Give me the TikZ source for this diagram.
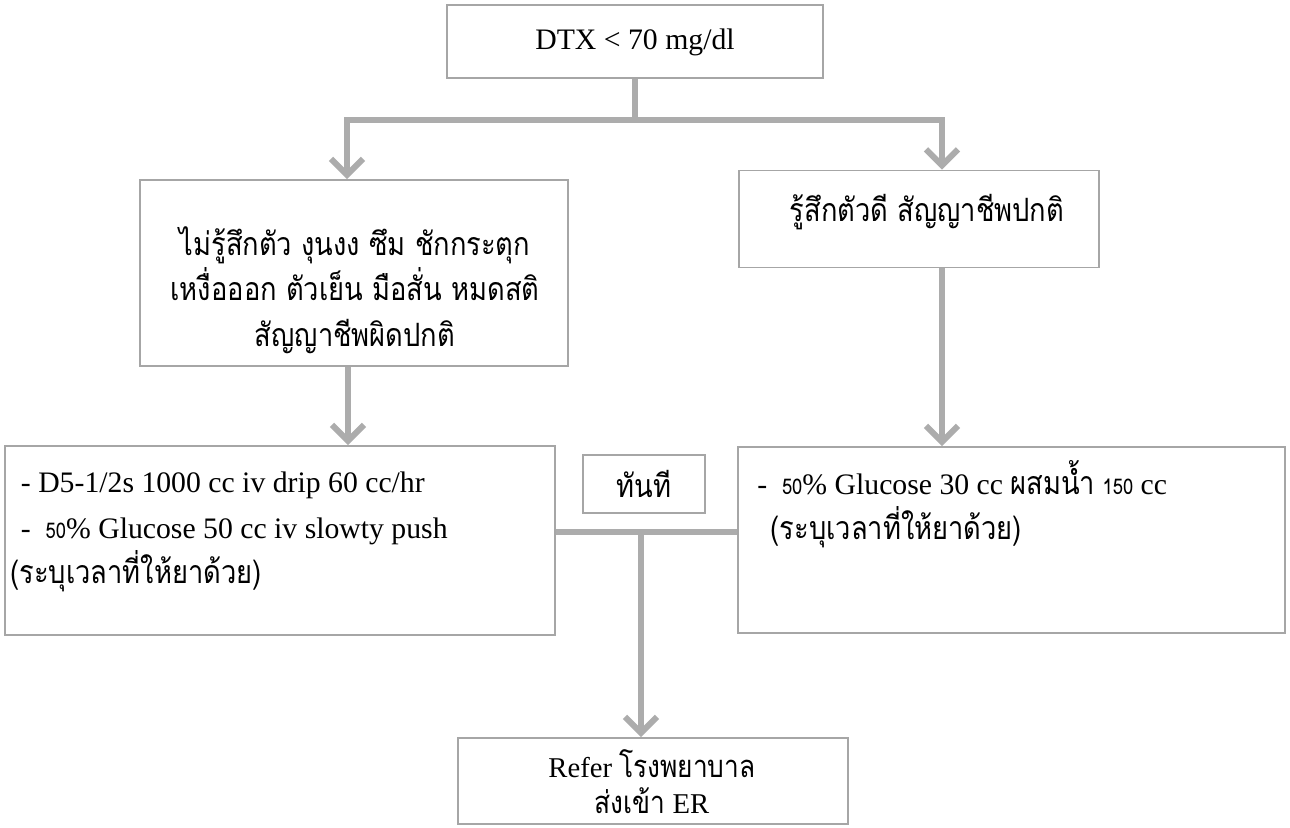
\documentclass[tikz,border=0pt]{standalone}
\usepackage{fontspec}
\setmainfont{Liberation Serif}
\newfontfamily\thaifont[Script=Thai, Scale=1.08, FakeStretch=0.85]{Loma}
\usetikzlibrary{arrows.meta}
\newcommand\thai[1]{{\thaifont #1}}
\newcommand\smalldig[1]{{\thaifont\fontsize{15}{15}\selectfont #1}}
\tikzset{
  box/.style={draw=gray!70, line width=1.4pt, inner sep=0pt, fill=white},
  txt/.style={inner sep=0pt, font=\fontsize{22.3}{34}\selectfont},
  conn/.style={draw=gray!65, line width=4pt},
  arr/.style={conn, -{Straight Barb[length=12pt, width=24pt, line width=4.5pt]}},
  arrboth/.style={conn, {Straight Barb[length=12pt, width=24pt, line width=4.5pt]}-{Straight Barb[length=12pt, width=24pt, line width=4.5pt]}},
}
\begin{document}
\begin{tikzpicture}[x=0.75pt, y=-0.75pt]
\fill[white] (0,0) rectangle (1290,828);
\useasboundingbox (0,0) rectangle (1290,828);

% boxes
\node[box, minimum width=282pt, minimum height=54.75pt] (top) at (635,41.5) {};
\node[txt] (topt) at (635,42) {DTX < 70 mg/dl};

\node[box, minimum width=321pt, minimum height=139.5pt] (lb1) at (354,273) {};
\node[txt, align=center] (lb1t) at (355,290) {\thai{ไม่รู้สึกตัว งุนงง ซึม ชักกระตุก}\\ \thai{เหงื่อออก ตัวเย็น มือสั่น หมดสติ}\\ \thai{สัญญาชีพผิดปกติ}};

\node[box, minimum width=270pt, minimum height=72.75pt] (rb1) at (919,219) {};
\node[txt] (rb1t) at (927,212) {\thai{รู้สึกตัวดี สัญญาชีพปกติ}};

\node[box, minimum width=412.5pt, minimum height=141.75pt] (lb2) at (280,540.5) {};
\node[txt, align=left, anchor=north west] (lb2t) at (10,472) {\hspace*{8pt}- D5-1/2s 1000 cc iv drip 60 cc/hr\\ \hspace*{8pt}-\ \ \smalldig{50}\% Glucose 50 cc iv slowty push\\ \thai{(ระบุเวลาที่ให้ยาด้วย)}};

\node[box, minimum width=91.5pt, minimum height=43.5pt] (now) at (644,484) {};
\node[txt] (nowt) at (644,484) {\thai{ทันที}};

\node[box, minimum width=410.25pt, minimum height=139.5pt] (rb2) at (1011.5,540) {};
\node[txt, align=left, anchor=north west] (rb2t) at (757,460) {-\ \ \smalldig{50}\% Glucose 30 cc \thai{ผสมน้ำ} \smalldig{150} cc\\ \hspace*{10pt}\thai{(ระบุเวลาที่ให้ยาด้วย)}};

\node[box, minimum width=292.5pt, minimum height=64.5pt] (bot) at (653,781) {};
\node[txt, align=center, font=\fontsize{21.5}{27}\selectfont] (bott) at (652,782) {Refer \thai{โรงพยาบาล}\\ \thai{ส่งเข้า} ER};

% connectors
\coordinate (jL) at (347,120);
\coordinate (jR) at (942,120);
\coordinate (jB) at (641,532);
\draw[conn] (top.south) -- (top.south |- jL);
\draw[arrboth] (jL |- lb1.north) -- (jL) -- (jR) -- (jR |- rb1.north);
\draw[arr] ([xshift=-4.5pt]lb1.south) -- ([xshift=-4.5pt]lb1.south |- lb2.north);
\draw[arr] (jR |- rb1.south) -- (jR |- rb2.north);
\draw[conn] (lb2.east |- jB) -- (rb2.west |- jB);
\draw[arr] (jB) -- (jB |- bot.north);
\end{tikzpicture}
\end{document}
